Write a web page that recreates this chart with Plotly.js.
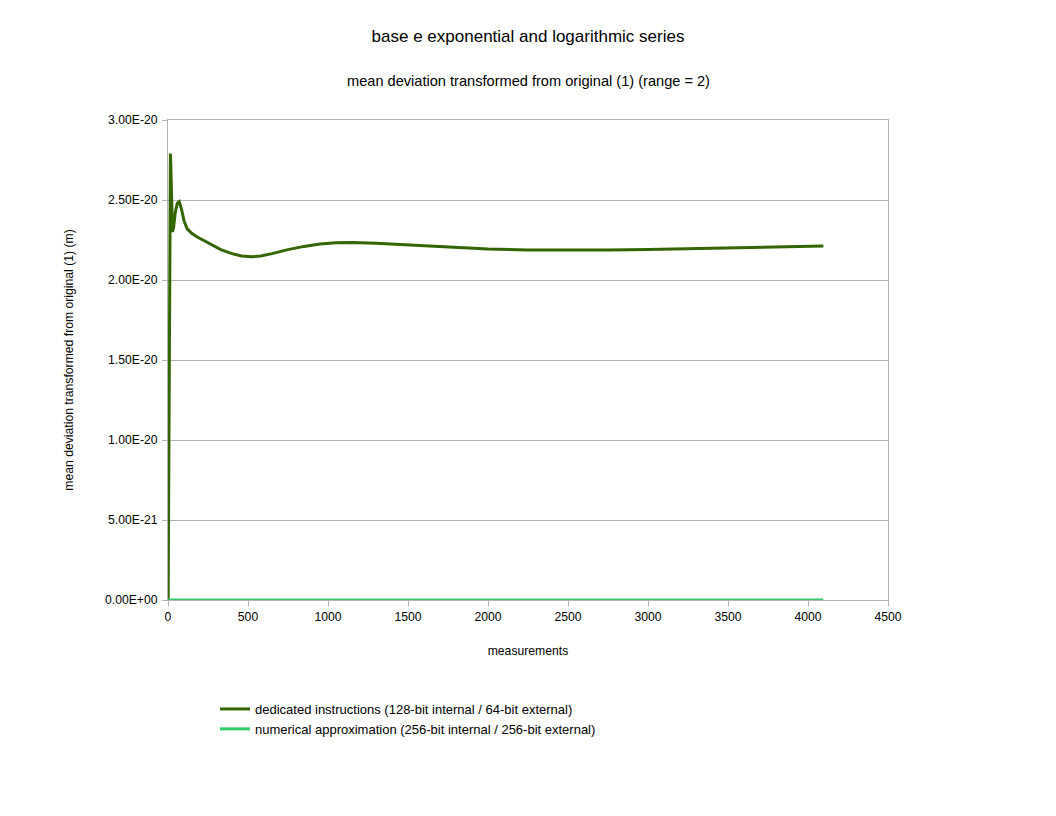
<!DOCTYPE html>
<html>
<head>
<meta charset="utf-8">
<script src="https://cdn.plot.ly/plotly-3.0.1.min.js"></script>
<style>body{margin:0;background:#fff;}#chart{width:1056px;height:816px;}</style>
</head>
<body>
<div id="chart"></div>
<script>
// dedicated instructions series (values in units of 1e-20)
const dedicatedX = [1, 4, 8, 12, 15, 18, 22, 28, 35, 45, 58, 70, 85, 100, 120, 150, 180, 220, 270, 330, 400, 460, 520, 580, 650, 750, 850, 950, 1050, 1150, 1300, 1500, 1750, 2000, 2250, 2500, 2750, 3000, 3250, 3500, 3750, 4096];
const dedicatedY = [0.0, 0.6, 1.7, 2.5, 2.79, 2.7, 2.5, 2.30, 2.33, 2.42, 2.48, 2.49, 2.44, 2.37, 2.32, 2.29, 2.27, 2.25, 2.22, 2.19, 2.165, 2.15, 2.145, 2.15, 2.165, 2.19, 2.21, 2.225, 2.233, 2.235, 2.23, 2.22, 2.205, 2.193, 2.188, 2.186, 2.187, 2.19, 2.195, 2.2, 2.205, 2.213];
// numerical approximation series (essentially zero)
const approxX = [1, 500, 1000, 1500, 2000, 2500, 3000, 3500, 4096];
const approxY = [0, 0, 0, 0, 0, 0, 0, 0, 0];
const yTickVals = [0, 0.5, 1.0, 1.5, 2.0, 2.5, 3.0];
const yTickText = ["0.00E+00", "5.00E-21", "1.00E-20", "1.50E-20", "2.00E-20", "2.50E-20", "3.00E-20"];
const xTickVals = [0, 500, 1000, 1500, 2000, 2500, 3000, 3500, 4000, 4500];

const SCALE = 1e-20;
const traces = [
  {
    x: dedicatedX, y: dedicatedY.map(v => v * SCALE), mode: 'lines',
    name: 'dedicated instructions (128-bit internal / 64-bit external)',
    line: {color: '#336600', width: 3}
  },
  {
    x: approxX, y: approxY.map(v => v * SCALE), mode: 'lines',
    name: 'numerical approximation (256-bit internal / 256-bit external)',
    line: {color: '#33cc66', width: 3}
  }
];

const layout = {
  width: 1056, height: 816,
  margin: {l: 168, r: 168, t: 120, b: 216},
  paper_bgcolor: '#ffffff', plot_bgcolor: '#ffffff',
  font: {family: '"Liberation Sans", Arial, sans-serif', size: 12, color: '#000'},
  title: {text: 'base e exponential and logarithmic series', font: {size: 17}, x: 0.5, xanchor: 'center', y: 1 - 36/816, yanchor: 'middle'},
  annotations: [{
    text: 'mean deviation transformed from original (1) (range = 2)',
    xref: 'paper', yref: 'paper', x: 0.5, y: (600 - 81) / 480, xanchor: 'center', yanchor: 'middle',
    showarrow: false, font: {size: 14.6}
  }],
  xaxis: {
    range: [0, 4500], tickvals: xTickVals, ticktext: xTickVals.map(String),
    showgrid: false, zeroline: false, showline: true, linecolor: '#b3b3b3', linewidth: 1, mirror: true,
    ticks: 'outside', ticklen: 5, tickcolor: '#b3b3b3', tickfont: {size: 12.2}, layer: 'below traces',
    title: {text: 'measurements', font: {size: 12.2}, standoff: 23}
  },
  yaxis: {
    range: [0, 3e-20], tickvals: yTickVals.map(v => v * SCALE), ticktext: yTickText,
    showgrid: true, gridcolor: '#b3b3b3', zeroline: false, showline: true, linecolor: '#b3b3b3', linewidth: 1, mirror: true,
    ticks: 'outside', ticklen: 5, tickcolor: '#b3b3b3', tickfont: {size: 12.2}, layer: 'below traces',
    ticklabelstandoff: 2,
    title: {text: 'mean deviation transformed from original (1) (m)', font: {size: 12.2}, standoff: 28}
  },
  showlegend: true,
  legend: {x: (215 - 168) / 720, xanchor: 'left', y: (600 - 694) / 480, yanchor: 'top', orientation: 'v', font: {size: 13}, tracegroupgap: 0, bgcolor: 'rgba(0,0,0,0)'}
};

Plotly.newPlot('chart', traces, layout, {displayModeBar: false, staticPlot: true});
</script>
</body>
</html>
